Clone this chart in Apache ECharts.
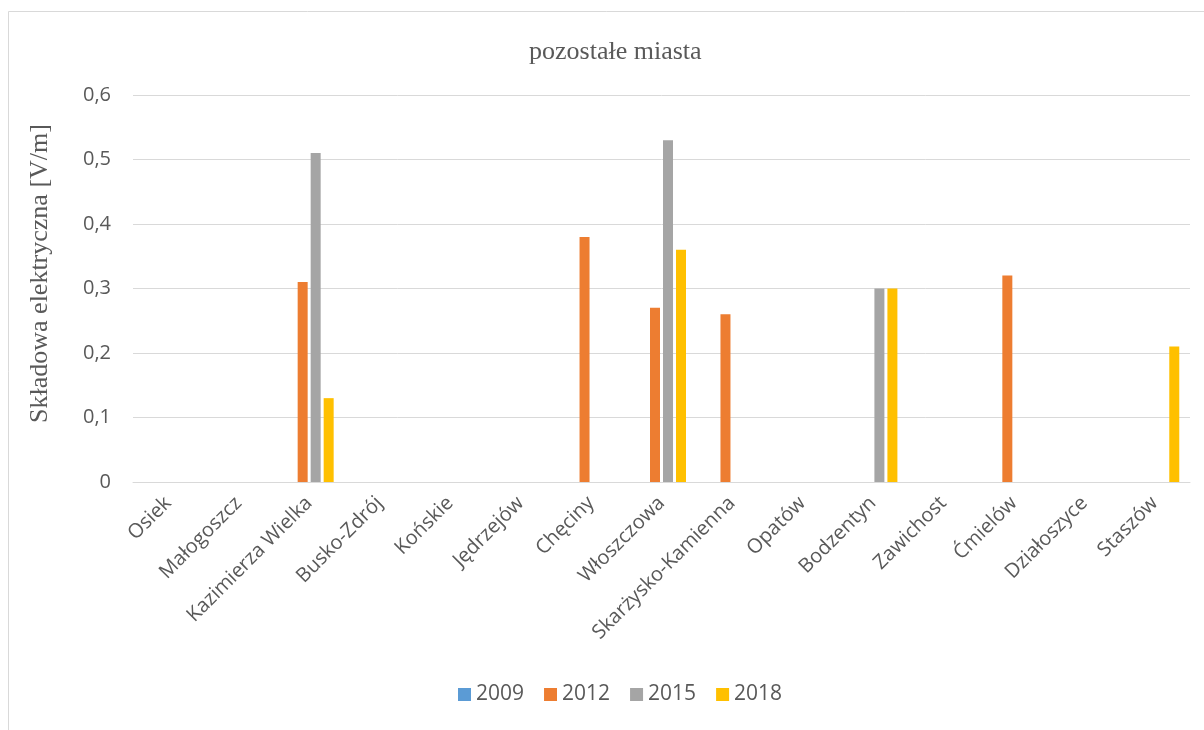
<!DOCTYPE html>
<html>
<head>
<meta charset="utf-8">
<script src="https://cdn.jsdelivr.net/npm/echarts@6/dist/echarts.min.js"></script>
<style>
  html, body { margin: 0; padding: 0; background: #fff; }
  #chart { width: 1204px; height: 730px; }
</style>
</head>
<body>
<div id="chart"></div>
<script>
// Cities along the category axis
const cities = ['Osiek', 'Małogoszcz', 'Kazimierza Wielka', 'Busko-Zdrój', 'Końskie', 'Jędrzejów',
  'Chęciny', 'Włoszczowa', 'Skarżysko-Kamienna', 'Opatów', 'Bodzentyn', 'Zawichost',
  'Ćmielów', 'Działoszyce', 'Staszów'];

// Measured electric field component [V/m] per survey year (null = no measurement)
const years = ['2009', '2012', '2015', '2018'];
const v2009 = [null, null, null, null, null, null, null, null, null, null, null, null, null, null, null];
const v2012 = [null, null, 0.31, null, null, null, 0.38, 0.27, 0.26, null, null, null, 0.32, null, null];
const v2015 = [null, null, 0.51, null, null, null, null, 0.53, null, null, 0.30, null, null, null, null];
const v2018 = [null, null, 0.13, null, null, null, null, 0.36, null, null, 0.30, null, null, null, 0.21];

const yTicks = [0, 0.1, 0.2, 0.3, 0.4, 0.5, 0.6];
const colors = ['#5B9BD5', '#ED7D31', '#A5A5A5', '#FFC000'];
const seriesValues = [v2009, v2012, v2015, v2018];

const labelFont = "'Open Sans', 'Liberation Sans', sans-serif";
const serifFont = "'Liberation Serif', 'DejaVu Serif', serif";

const chart = echarts.init(document.getElementById('chart'), null, { renderer: 'canvas' });
chart.setOption({
  animation: false,
  backgroundColor: '#ffffff',
  graphic: [{
    type: 'rect',
    shape: { x: 8.5, y: 11.5, width: 1300, height: 800 },
    style: { fill: 'none', stroke: '#d9d9d9', lineWidth: 1 },
    silent: true
  }],
  title: {
    text: 'pozostałe miasta',
    left: 524,
    top: 34,
    textStyle: { fontFamily: serifFont, fontSize: 26, fontWeight: 'normal', color: '#595959' }
  },
  legend: {
    data: years,
    bottom: 20,
    left: 453,
    itemWidth: 13,
    itemHeight: 13,
    itemGap: 20,
    icon: 'rect',
    textStyle: { fontFamily: labelFont, fontSize: 21, color: '#595959' }
  },
  grid: { left: 133, right: 14, top: 95, bottom: 248 },
  xAxis: {
    type: 'category',
    data: cities,
    axisLine: { show: true, lineStyle: { color: '#d9d9d9', width: 1 } },
    axisTick: { show: false },
    axisLabel: {
      rotate: 45,
      interval: 0,
      margin: 18,
      fontFamily: labelFont,
      fontSize: 20,
      color: '#595959'
    }
  },
  yAxis: {
    type: 'value',
    min: 0,
    max: 0.6,
    interval: 0.1,
    name: 'Składowa elektryczna [V/m]',
    nameLocation: 'middle',
    nameGap: 80,
    nameTextStyle: { fontFamily: serifFont, fontSize: 26, color: '#595959', padding: [0, 0, 0, 30] },
    axisLine: { show: false },
    axisTick: { show: false },
    splitLine: { lineStyle: { color: '#d9d9d9', width: 1 } },
    axisLabel: {
      margin: 22,
      fontFamily: labelFont,
      fontSize: 20,
      color: '#595959',
      formatter: v => {
        const t = yTicks.find(x => Math.abs(x - v) < 1e-9);
        return String(Math.round((t !== undefined ? t : v) * 10) / 10).replace('.', ',');
      }
    }
  },
  series: years.map((y, i) => ({
    name: y,
    type: 'bar',
    data: seriesValues[i],
    barWidth: 10,
    barGap: '30%',
    itemStyle: { color: colors[i] }
  }))
});
</script>
</body>
</html>
